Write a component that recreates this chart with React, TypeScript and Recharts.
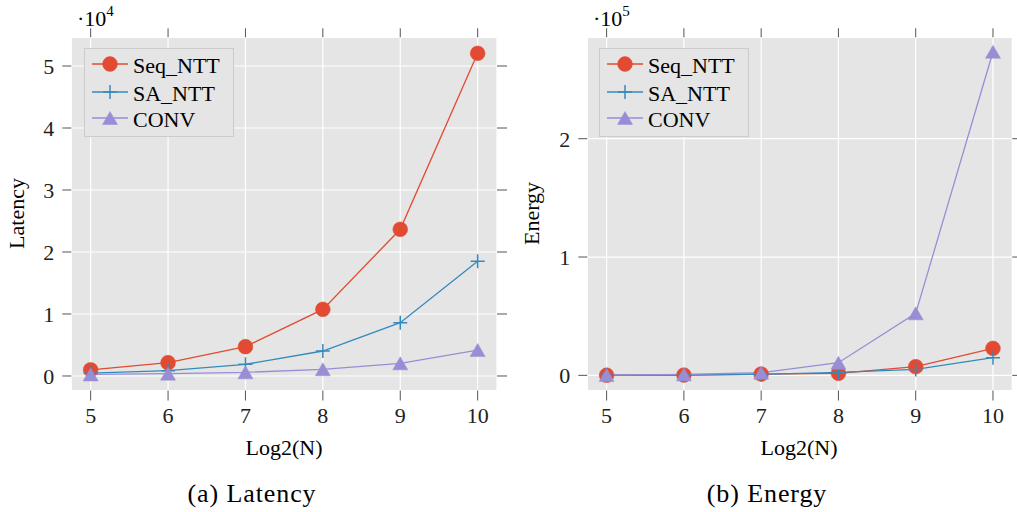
import React from 'react';
import { LineChart, Line, XAxis, YAxis, CartesianGrid, Legend } from 'recharts';

// ---------- data ----------
const log2N = [5, 6, 7, 8, 9, 10];
const seriesNames = ['Seq_NTT', 'SA_NTT', 'CONV'];
const latencySeq = [1000, 2150, 4730, 10750, 23660, 52040];
const latencySA = [450, 860, 1880, 4030, 8600, 18500];
const latencyConv = [250, 380, 590, 1080, 2040, 4190];
const energySeq = [150, 250, 1100, 1700, 7300, 22800];
const energySA = [100, 300, 800, 2500, 5000, 14900];
const energyConv = [250, 800, 2200, 10700, 52400, 273500];
const xTicks = [5, 6, 7, 8, 9, 10];
const latencyTicks = [0, 10000, 20000, 30000, 40000, 50000];
const energyTicks = [0, 100000, 200000];

const latencyData = log2N.map((x, i) => ({ x, seq: latencySeq[i], sa: latencySA[i], conv: latencyConv[i] }));
const energyData = log2N.map((x, i) => ({ x, seq: energySeq[i], sa: energySA[i], conv: energyConv[i] }));

const RED = '#E24A33';
const BLUE = '#348ABD';
const PURPLE = '#988ED5';
const FONT = '"Liberation Serif", "Times New Roman", serif';
const TICK_COLOR = '#555555';

const CircleDot = (p: any) => {
  if (p.cx == null || p.cy == null) return <g key={p.index} />;
  return <circle key={p.index} cx={p.cx} cy={p.cy} r={7.4} fill={RED} stroke={RED} strokeWidth={0.5} />;
};
const PlusDot = (p: any) => {
  if (p.cx == null || p.cy == null) return <g key={p.index} />;
  const s = 7;
  return (
    <g key={p.index}>
      <line x1={p.cx - s} x2={p.cx + s} y1={p.cy} y2={p.cy} stroke={BLUE} strokeWidth={1.5} />
      <line x1={p.cx} x2={p.cx} y1={p.cy - s} y2={p.cy + s} stroke={BLUE} strokeWidth={1.5} />
    </g>
  );
};
const TriDot = (p: any) => {
  if (p.cx == null || p.cy == null) return <g key={p.index} />;
  const w = 7.5, h = 6.5;
  return (
    <polygon
      key={p.index}
      points={`${p.cx},${p.cy - h} ${p.cx - w},${p.cy + h} ${p.cx + w},${p.cy + h}`}
      fill={PURPLE}
      stroke={PURPLE}
      strokeWidth={0.5}
    />
  );
};

const markerFor = (name: string, cx: number, cy: number) => {
  if (name === 'Seq_NTT') return <CircleDot cx={cx} cy={cy} index={0} />;
  if (name === 'SA_NTT') return <PlusDot cx={cx} cy={cy} index={0} />;
  return <TriDot cx={cx} cy={cy} index={0} />;
};
const colorFor = (name: string) => (name === 'Seq_NTT' ? RED : name === 'SA_NTT' ? BLUE : PURPLE);

const LegendBox = () => {
  const rows = [16, 44, 70];
  return (
    <svg width={150} height={89} style={{ display: 'block' }}>
      <rect x={0.5} y={0.5} width={149} height={88} fill="#E5E5E5" stroke="#CCCCCC" strokeWidth={1} />
      {seriesNames.map((name, i) => (
        <g key={name}>
          <line x1={8} x2={44} y1={rows[i]} y2={rows[i]} stroke={colorFor(name)} strokeWidth={1.3} />
          {markerFor(name, 26, rows[i])}
          <text x={49} y={rows[i] + 8.5} fontFamily={FONT} fontSize={22} fill="#000">
            {name}
          </text>
        </g>
      ))}
    </svg>
  );
};

const emptyTick = () => <g />;

type PanelProps = {
  data: any[];
  yTicks: number[];
  yDomain: [number, number];
  width: number;
  margin: { top: number; right: number; bottom: number; left: number };
  legendPos: { left: number; top: number };
  fmt: (v: number) => string;
};

const Panel = ({ data, yTicks, yDomain, width, margin, legendPos, fmt }: PanelProps) => (
  <LineChart width={width} height={512} data={data} margin={margin}>
    <CartesianGrid
      xAxisId="b"
      yAxisId="l"
      fill="#E5E5E5"
      fillOpacity={1}
      stroke="#FFFFFF"
      strokeWidth={1.2}
    />
    <XAxis
      xAxisId="b"
      dataKey="x"
      type="number"
      orientation="bottom"
      domain={[4.75, 10.25]}
      ticks={xTicks}
      allowDataOverflow
      height={30}
      axisLine={false}
      tickSize={10}
      tickMargin={7}
      tickLine={{ stroke: TICK_COLOR, strokeWidth: 1 }}
      tick={{ fill: '#222', fontFamily: FONT, fontSize: 22 }}
      interval={0}
    />
    <XAxis
      xAxisId="t"
      dataKey="x"
      type="number"
      orientation="top"
      domain={[4.75, 10.25]}
      ticks={xTicks}
      allowDataOverflow
      height={10}
      axisLine={false}
      tickSize={9}
      tickLine={{ stroke: TICK_COLOR, strokeWidth: 1 }}
      tick={emptyTick}
      interval={0}
    />
    <YAxis
      yAxisId="l"
      type="number"
      orientation="left"
      domain={yDomain}
      ticks={yTicks}
      allowDataOverflow
      width={40}
      axisLine={false}
      tickSize={9}
      tickMargin={8}
      tickLine={{ stroke: TICK_COLOR, strokeWidth: 1 }}
      tick={{ fill: '#222', fontFamily: FONT, fontSize: 22 }}
      tickFormatter={fmt}
      interval={0}
    />
    <YAxis
      yAxisId="r"
      type="number"
      orientation="right"
      domain={yDomain}
      ticks={yTicks}
      allowDataOverflow
      width={10}
      axisLine={false}
      tickSize={10}
      tickLine={{ stroke: TICK_COLOR, strokeWidth: 1 }}
      tick={emptyTick}
      interval={0}
    />
    <Legend
      layout="horizontal"
      verticalAlign="middle"
      align="center"
      wrapperStyle={{ left: legendPos.left, top: legendPos.top, width: 150, height: 89 }}
      content={() => <LegendBox />}
    />
    <Line
      xAxisId="t"
      yAxisId="r"
      dataKey="seq"
      stroke="none"
      dot={false}
      activeDot={false}
      legendType="none"
      isAnimationActive={false}
    />
    <Line
      xAxisId="b"
      yAxisId="l"
      name="Seq_NTT"
      dataKey="seq"
      type="linear"
      stroke={RED}
      strokeWidth={1.3}
      dot={CircleDot}
      activeDot={false}
      isAnimationActive={false}
    />
    <Line
      xAxisId="b"
      yAxisId="l"
      name="SA_NTT"
      dataKey="sa"
      type="linear"
      stroke={BLUE}
      strokeWidth={1.3}
      dot={PlusDot}
      activeDot={false}
      isAnimationActive={false}
    />
    <Line
      xAxisId="b"
      yAxisId="l"
      name="CONV"
      dataKey="conv"
      type="linear"
      stroke={PURPLE}
      strokeWidth={1.3}
      dot={TriDot}
      activeDot={false}
      isAnimationActive={false}
    />
  </LineChart>
);

export default function App() {
  return (
    <div
      style={{
        position: 'absolute',
        left: 0,
        top: 0,
        width: 1017,
        height: 512,
        overflow: 'hidden',
        background: '#FFFFFF',
      }}
    >
      <div style={{ position: 'absolute', left: 0, top: 0 }}>
        <Panel
          data={latencyData}
          yTicks={latencyTicks}
          yDomain={[-2340, 54630]}
          width={508}
          margin={{ top: 27.3, right: 1, bottom: 91.5, left: 31.3 }}
          legendPos={{ left: 84, top: 48 }}
          fmt={(v: number) => String(Math.round(v / 10000))}
        />
      </div>
      <div style={{ position: 'absolute', left: 508, top: 0 }}>
        <Panel
          data={energyData}
          yTicks={energyTicks}
          yDomain={[-12800, 285700]}
          width={520}
          margin={{ top: 27.3, right: 5.7, bottom: 91.5, left: 39.3 }}
          legendPos={{ left: 91, top: 48 }}
          fmt={(v: number) => String(Math.round(v / 100000))}
        />
      </div>
      <svg
        width={1017}
        height={512}
        style={{ position: 'absolute', left: 0, top: 0, pointerEvents: 'none' }}
        fontFamily={FONT}
      >
        <text x={77} y={26} fontSize={22} fill="#000">
          ·10<tspan dy={-10} fontSize={15}>4</tspan>
        </text>
        <text x={593} y={26} fontSize={22} fill="#000">
          ·10<tspan dy={-10} fontSize={15}>5</tspan>
        </text>
        <text transform="translate(24,213.5) rotate(-90)" textAnchor="middle" fontSize={22} fill="#000">
          Latency
        </text>
        <text transform="translate(539,213.5) rotate(-90)" textAnchor="middle" fontSize={22} fill="#000">
          Energy
        </text>
        <text x={284} y={455} textAnchor="middle" fontSize={22} fill="#000">
          Log2(N)
        </text>
        <text x={799} y={455} textAnchor="middle" fontSize={22} fill="#000">
          Log2(N)
        </text>
        <text x={252} y={502} textAnchor="middle" fontSize={26} letterSpacing={0.9} fill="#000">
          (a) Latency
        </text>
        <text x={767} y={502} textAnchor="middle" fontSize={26} letterSpacing={0.9} fill="#000">
          (b) Energy
        </text>
      </svg>
    </div>
  );
}
